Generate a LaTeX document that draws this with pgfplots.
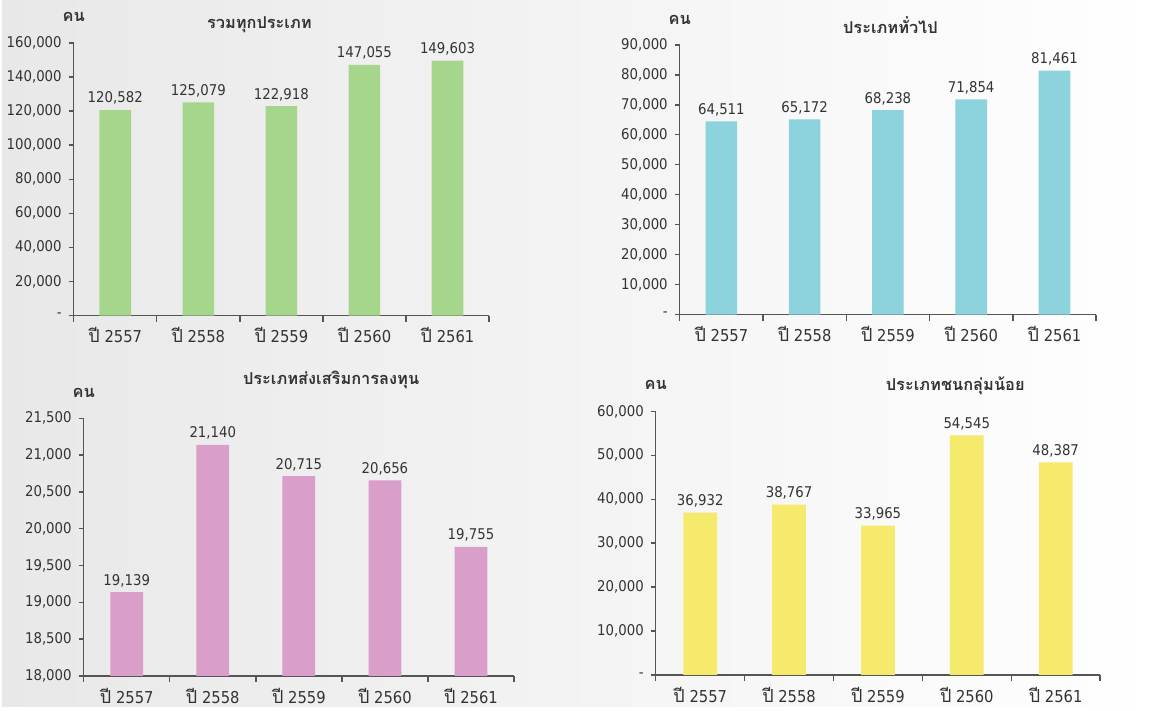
\documentclass[border=0pt]{standalone}
\usepackage{pgfplots}
\pgfplotsset{compat=1.18}
\usepackage{fontspec}
\setmainfont{DejaVu Sans}[FakeStretch=0.9]
\newfontfamily\thaifont[Script=Thai]{Loma}
\definecolor{txt}{HTML}{333333}
\definecolor{axcol}{HTML}{555555}
\definecolor{cgreen}{HTML}{A5D68C}
\definecolor{cteal}{HTML}{8DD3DD}
\definecolor{cpink}{HTML}{D99EC9}
\definecolor{cyellow}{HTML}{F5EA6C}
\pgfplotsset{
  common/.style={
    scale only axis,
    axis x line*=bottom, axis y line*=left,
    xmin=-0.5, xmax=4.5,
    xtick={0,...,4},
    xticklabels={{\thaifont\fontsize{9}{10}\selectfont ปี} 2557,{\thaifont\fontsize{9}{10}\selectfont ปี} 2558,{\thaifont\fontsize{9}{10}\selectfont ปี} 2559,{\thaifont\fontsize{9}{10}\selectfont ปี} 2560,{\thaifont\fontsize{9}{10}\selectfont ปี} 2561},
    major x tick style={draw=none},
    minor xtick={-0.5,0.5,...,4.5},
    minor tick length=3pt,
    major tick length=2.5pt,
    tick align=outside,
    scaled y ticks=false,
    axis line style={axcol, line width=0.7pt},
    every tick/.style={axcol, line width=0.7pt},
    ybar, bar width=0.38,
    clip=false,
    point meta=explicit symbolic,
    nodes near coords,
    every node near coord/.style={font=\fontsize{7.4}{8.5}\selectfont, text=txt, inner sep=2.5pt},
    xticklabel style={font=\fontsize{8.2}{9.5}\selectfont, text=txt},
    yticklabel style={font=\fontsize{7.4}{8.5}\selectfont, text=txt},
    title style={font=\thaifont\bfseries\fontsize{8.2}{9.5}\selectfont, text=txt, anchor=center},
  }
}
\begin{document}
\begin{tikzpicture}
\shade[left color=black!9, right color=white] (0,0) rectangle (580pt,-354pt);

% Panel 1
\begin{axis}[common, at={(36pt,-158pt)}, anchor=south west,
  width=208pt, height=136.5pt,
  ymin=0, ymax=160000, ytick={0,20000,...,160000},
  yticklabels={{-},{20,000},{40,000},{60,000},{80,000},{100,000},{120,000},{140,000},{160,000}},
  title={รวมทุกประเภท}, title style={at={(0.447,1)}, yshift=3pt}]
\addplot[fill=cgreen, draw=none] table[x=x, y=y, meta=lab]{
x y lab
0 120582 120,582
1 125079 125,079
2 122918 122,918
3 147055 147,055
4 149603 149,603
};
\node[font=\thaifont\bfseries\fontsize{8.2}{9.5}\selectfont, text=txt] at (rel axis cs:0,1) [yshift=13pt] {คน};
\end{axis}

% Panel 2
\begin{axis}[common, at={(339.5pt,-157.5pt)}, anchor=south west,
  width=208.5pt, height=135pt,
  ymin=0, ymax=90000, ytick={0,10000,...,90000},
  yticklabels={{-},{10,000},{20,000},{30,000},{40,000},{50,000},{60,000},{70,000},{80,000},{90,000}},
  title={ประเภททั่วไป}, title style={at={(0.506,1)}, yshift=4pt}]
\addplot[fill=cteal, draw=none] table[x=x, y=y, meta=lab]{
x y lab
0 64511 64,511
1 65172 65,172
2 68238 68,238
3 71854 71,854
4 81461 81,461
};
\node[font=\thaifont\bfseries\fontsize{8.2}{9.5}\selectfont, text=txt] at (rel axis cs:0,1) [yshift=12.5pt] {คน};
\end{axis}

% Panel 3
\begin{axis}[common, at={(41pt,-338.5pt)}, anchor=south west,
  width=215.5pt, height=129pt,
  ymin=18000, ymax=21500, ytick={18000,18500,...,21500},
  yticklabels={{18,000},{18,500},{19,000},{19,500},{20,000},{20,500},{21,000},{21,500}},
  title={ประเภทส่งเสริมการลงทุน}, title style={at={(0.575,1)}, yshift=13pt}]
\addplot[fill=cpink, draw=none] table[x=x, y=y, meta=lab]{
x y lab
0 19139 19,139
1 21140 21,140
2 20715 20,715
3 20656 20,656
4 19755 19,755
};
\node[font=\thaifont\bfseries\fontsize{8.2}{9.5}\selectfont, text=txt] at (rel axis cs:0,1) [yshift=12.5pt] {คน};
\end{axis}

% Panel 4
\begin{axis}[common, at={(327.5pt,-338pt)}, anchor=south west,
  width=222.5pt, height=132pt,
  ymin=0, ymax=60000, ytick={0,10000,...,60000},
  yticklabels={{-},{10,000},{20,000},{30,000},{40,000},{50,000},{60,000}},
  title={ประเภทชนกลุ่มน้อย}, title style={at={(0.674,1)}, yshift=7pt}]
\addplot[fill=cyellow, draw=none] table[x=x, y=y, meta=lab]{
x y lab
0 36932 36,932
1 38767 38,767
2 33965 33,965
3 54545 54,545
4 48387 48,387
};
\node[font=\thaifont\bfseries\fontsize{8.2}{9.5}\selectfont, text=txt] at (rel axis cs:0,1) [yshift=13pt] {คน};
\end{axis}
\end{tikzpicture}
\end{document}
